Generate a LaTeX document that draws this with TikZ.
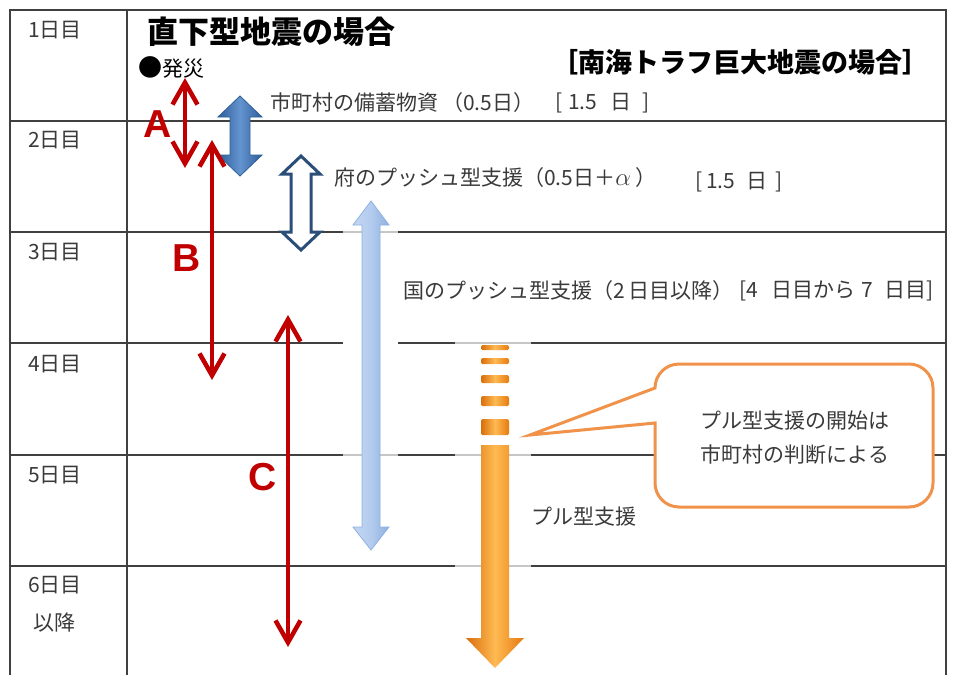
\documentclass[tikz,border=0pt]{standalone}
\usepackage{fontspec}
\newfontfamily\cjk{Noto Sans CJK JP}
\newfontfamily\latb{Liberation Sans}
\usetikzlibrary{arrows.meta}
\definecolor{gridc}{HTML}{404040}
\definecolor{txtc}{HTML}{3A3A3A}
\definecolor{redc}{HTML}{C00000}
\definecolor{orangec}{HTML}{F0924A}
\definecolor{dblue}{HTML}{2F5E98}
\definecolor{mblue}{HTML}{6494D0}
\definecolor{oblue}{HTML}{2B4E78}
\definecolor{lbluel}{HTML}{C4D7F2}
\definecolor{lbluer}{HTML}{8FB1E1}
\definecolor{lbluem}{HTML}{B3CBEE}
\definecolor{or1}{HTML}{D86E0C}
\definecolor{or2}{HTML}{FFBA52}
\definecolor{or3}{HTML}{E47A10}
\begin{document}
\begin{tikzpicture}[x=1pt,y=-1pt,
  gridline/.style={draw=gridc,line width=1.3pt},
  txt/.style={font=\cjk\fontsize{21}{25}\selectfont,text=txtc,inner sep=0pt},
  rowlbl/.style={font=\cjk\fontsize{21}{25}\selectfont,text=txtc,inner sep=0pt},
  redlbl/.style={font=\latb\bfseries\fontsize{39}{41}\selectfont,text=redc,inner sep=0pt},
  barb/.tip={Straight Barb[length=22pt,width=25pt]},
  redarr/.style={draw=redc,line width=4.5pt,arrows={barb-barb}},
  glow/.style={fill=white,opacity=0.7},
  orshade/.style={left color=or1,right color=or3,middle color=or2},
  callout/.style={draw=orangec,line width=3pt,fill=white}
]
\useasboundingbox (0,0) rectangle (954,675);
\fill[white] (0,0) rectangle (954,675);
% grid
\draw[gridline] (10,675) -- (10,10) -- (946,10) -- (946,675);
\draw[gridline] (127,10) -- (127,675);
\foreach \yy in {121,232,343,455,566}{\draw[gridline] (10,\yy) -- (946,\yy);}
% glows
\fill[glow] (343,195) rectangle (398,560);
\fill[white] (343,338) rectangle (398,348);
\fill[glow] (455,338) rectangle (531,675);
% row labels
\node[rowlbl] (d1) at (55,30) {1日目};
\node[rowlbl] (d2) at (55,140) {2日目};
\node[rowlbl] (d3) at (55,252) {3日目};
\node[rowlbl] (d4) at (55,364) {4日目};
\node[rowlbl] (d5) at (55,475) {5日目};
\node[rowlbl] (d6) at (55,585) {6日目};
\node[rowlbl] (d6b) at (55,623) {以降};
% titles
\node[font=\cjk\bfseries\fontsize{31}{35}\selectfont,inner sep=0pt,anchor=west] (title) at (147,32) {直下型地震の場合};
\node[font=\cjk\bfseries\fontsize{27}{31}\selectfont,inner sep=0pt,anchor=west] (nankai) at (551,62) {［南海トラフ巨大地震の場合］};
\node[txt,anchor=west,text=black] (hassai) at (138,67) {{\fontsize{24}{24}\selectfont ●}発災};
% blue arrows
\shadedraw[left color=dblue,right color=dblue,middle color=mblue,draw=dblue,line width=0.8pt]
 (240,96) -- (262,117) -- (250,117) -- (250,155) -- (262,155) -- (240,176) -- (218,155) -- (230,155) -- (230,117) -- (218,117) -- cycle;
\draw[draw=oblue,line width=3pt,fill=white,line join=miter]
 (301,156) -- (320,174) -- (311,174) -- (311,232) -- (320,232) -- (301,250) -- (282,232) -- (291,232) -- (291,174) -- (282,174) -- cycle;
\shadedraw[left color=lbluel,right color=lbluer,middle color=lbluem,draw=lbluer,line width=0.8pt]
 (371,201) -- (389,225) -- (380,225) -- (380,527) -- (389,527) -- (371,550) -- (353,527) -- (362,527) -- (362,225) -- (353,225) -- cycle;
% orange arrow
\foreach \ya/\yb in {345/350,358/364,375/383,396/406,419/435}{
  \shade[orshade,rounded corners=1.5pt] (481,\ya) rectangle (509,\yb);}
\shade[orshade] (481,445) -- (509,445) -- (509,638) -- (524,638) -- (495,668) -- (466,638) -- (481,638) -- cycle;
% red arrows
\coordinate (a1) at (185,78);
\coordinate (a2) at (185,168);
\coordinate (b1) at (212,140);
\coordinate (b2) at (212,380);
\coordinate (c1) at (288,315);
\coordinate (c2) at (288,647);
\draw[redarr] (a1) -- (a2);
\draw[redarr] (b1) -- (b2);
\draw[redarr] (c1) -- (c2);
\node[redlbl] (la) at (158,124) {A};
\node[redlbl] (lb) at (187,258) {B};
\node[redlbl] (lc) at (263,477) {C};
% labels
\node[txt,anchor=west] (shi) at (270,103) {市町村の備蓄物資\hspace{4pt}（0.5日）};
\node[txt,anchor=west] (shib) at (555,103) {[\hspace{6pt}1.5\hspace{13pt}日\hspace{11pt}]};
\node[txt,anchor=west] (fu) at (334,178) {府のプッシュ型支援（0.5日＋{\fontsize{25}{25}\selectfont$\alpha$}\hspace{4pt}）};
\node[txt,anchor=west] (fub) at (695,182) {[\hspace{4pt}1.5\hspace{11pt}日\hspace{8pt}]};
\node[txt,anchor=west] (kuni) at (403,291) {国のプッシュ型支援（2\hspace{4pt}日目以降）};
\node[txt,anchor=west] (kunib) at (739,291) {[4\hspace{14pt}日目から\hspace{6pt}7\hspace{11pt}日目]};
\node[txt,anchor=west] (pull) at (531,517) {プル型支援};
% callout
\draw[callout] (655,388) [rounded corners=24pt] -- (655,364) -- (933,364) -- (933,507) -- (655,507) [sharp corners] -- (655,423) -- (530,435) -- cycle;
\node[txt] (co1) at (795,421) {プル型支援の開始は};
\node[txt] (co2) at (795,455) {市町村の判断による};
\end{tikzpicture}
\end{document}
